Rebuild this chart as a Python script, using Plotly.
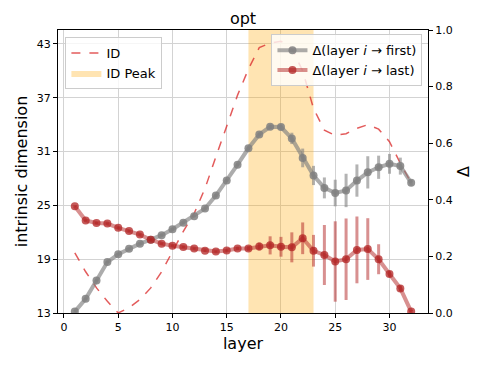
import plotly.graph_objects as go

# data
layers = list(range(1, 33))

id_values = [19.7, 17.6, 15.8, 14.3, 13.0, 13.6, 14.5, 15.8, 17.6, 19.8,
             22.1, 24.1, 26.9, 30.4, 33.9, 37.3, 40.2, 42.6, 43.1, 43.3,
             42.5, 40.0, 35.8, 33.4, 32.8, 33.0, 33.6, 34.0, 33.5, 32.1,
             29.7, 27.5]

delta_first = [0.005, 0.050, 0.115, 0.180, 0.208, 0.227, 0.245, 0.259, 0.275, 0.296,
               0.319, 0.342, 0.369, 0.415, 0.468, 0.524, 0.582, 0.631, 0.658, 0.657,
               0.617, 0.548, 0.486, 0.442, 0.424, 0.433, 0.468, 0.497, 0.515, 0.527,
               0.519, 0.460]
delta_first_err = [0.004, 0.004, 0.004, 0.004, 0.004, 0.004, 0.004, 0.004, 0.004, 0.004,
                   0.004, 0.004, 0.004, 0.005, 0.005, 0.005, 0.006, 0.006, 0.008, 0.010,
                   0.020, 0.033, 0.034, 0.037, 0.047, 0.059, 0.057, 0.057, 0.041, 0.035,
                   0.030, 0.010]

delta_last = [0.377, 0.327, 0.318, 0.316, 0.301, 0.290, 0.277, 0.259, 0.245, 0.238,
              0.233, 0.228, 0.220, 0.217, 0.221, 0.228, 0.228, 0.235, 0.239, 0.234,
              0.232, 0.264, 0.220, 0.205, 0.182, 0.190, 0.223, 0.226, 0.190, 0.138,
              0.087, 0.005]
delta_last_err = [0.004, 0.004, 0.004, 0.004, 0.004, 0.004, 0.004, 0.004, 0.004, 0.004,
                  0.004, 0.004, 0.004, 0.004, 0.004, 0.005, 0.008, 0.014, 0.032, 0.035,
                  0.053, 0.056, 0.056, 0.106, 0.142, 0.144, 0.118, 0.109, 0.053, 0.010,
                  0.010, 0.005]

peak_start, peak_end = 17, 23
id_ticks = [13, 19, 25, 31, 37, 43]
id_range = [13, 44.56]
delta_ticks = [0.0, 0.2, 0.4, 0.6, 0.8, 1.0]

FONT = "DejaVu Sans"

fig = go.Figure()

# ID peak band
fig.add_trace(go.Scatter(
    x=[peak_start, peak_end, peak_end, peak_start, peak_start],
    y=[id_range[0], id_range[0], id_range[1], id_range[1], id_range[0]],
    fill="toself", fillcolor="rgba(255,165,0,0.3)", mode="lines",
    line=dict(width=0), name="ID Peak", legend="legend", legendrank=2,
    hoverinfo="skip"))

fig.add_trace(go.Scatter(
    x=layers, y=id_values, mode="lines", name="ID", legend="legend", legendrank=1,
    line=dict(color="rgba(220,50,50,0.8)", width=1.5, dash="dash")))

fig.add_trace(go.Scatter(
    x=layers, y=delta_first, yaxis="y2", mode="lines+markers",
    name="Δ(layer <i>i</i> → first)", legend="legend2",
    line=dict(color="rgba(128,128,128,0.65)", width=4),
    marker=dict(color="rgba(128,128,128,0.85)", size=8),
    error_y=dict(type="data", array=delta_first_err, thickness=3, width=0,
                 color="rgba(128,128,128,0.6)")))

fig.add_trace(go.Scatter(
    x=layers, y=delta_last, yaxis="y2", mode="lines+markers",
    name="Δ(layer <i>i</i> → last)", legend="legend2",
    line=dict(color="rgba(178,34,34,0.5)", width=4),
    marker=dict(color="rgba(178,34,34,0.75)", size=8),
    error_y=dict(type="data", array=delta_last_err, thickness=3, width=0,
                 color="rgba(178,34,34,0.5)")))

axis_common = dict(showline=True, linecolor="black", linewidth=1,
                   ticks="outside", ticklen=4, tickcolor="black", automargin=False,
                   tickfont=dict(size=11, color="black"), zeroline=False)

# page body adds an 8px offset, so the figure is a bit smaller than the window
fig.update_layout(
    width=479, height=357,
    margin=dict(l=50, r=59, t=22, b=52),
    plot_bgcolor="white", paper_bgcolor="white",
    font=dict(family=FONT, color="black"),
    title=dict(text="opt", x=0.5, xref="paper", y=0.972, yref="container",
               yanchor="middle", font=dict(size=16), automargin=False),
    xaxis=dict(range=[-0.55, 33.55], tickvals=[0, 5, 10, 15, 20, 25, 30],
               showgrid=True, gridcolor="#d3d3d3", gridwidth=1.2, mirror=True,
               title=dict(text="layer", font=dict(size=16), standoff=4),
               **axis_common),
    yaxis=dict(range=id_range, tickvals=id_ticks, showgrid=True,
               gridcolor="#d3d3d3", gridwidth=1.2,
               title=dict(text="intrinsic dimension", font=dict(size=16), standoff=5),
               **axis_common),
    yaxis2=dict(range=[0, 1], tickvals=delta_ticks, tickformat=".1f",
                overlaying="y", side="right", showgrid=False,
                title=dict(text="Δ", font=dict(size=16), standoff=6),
                **axis_common),
    legend=dict(x=0.02, y=0.975, xanchor="left", yanchor="top",
                bgcolor="rgba(255,255,255,0.8)", bordercolor="#cccccc",
                borderwidth=1, font=dict(size=13), tracegroupgap=2),
    legend2=dict(x=0.985, y=0.985, xanchor="right", yanchor="top",
                 bgcolor="rgba(255,255,255,0.8)", bordercolor="#cccccc",
                 borderwidth=1, font=dict(size=13)),
)

fig.write_html("out.html")
